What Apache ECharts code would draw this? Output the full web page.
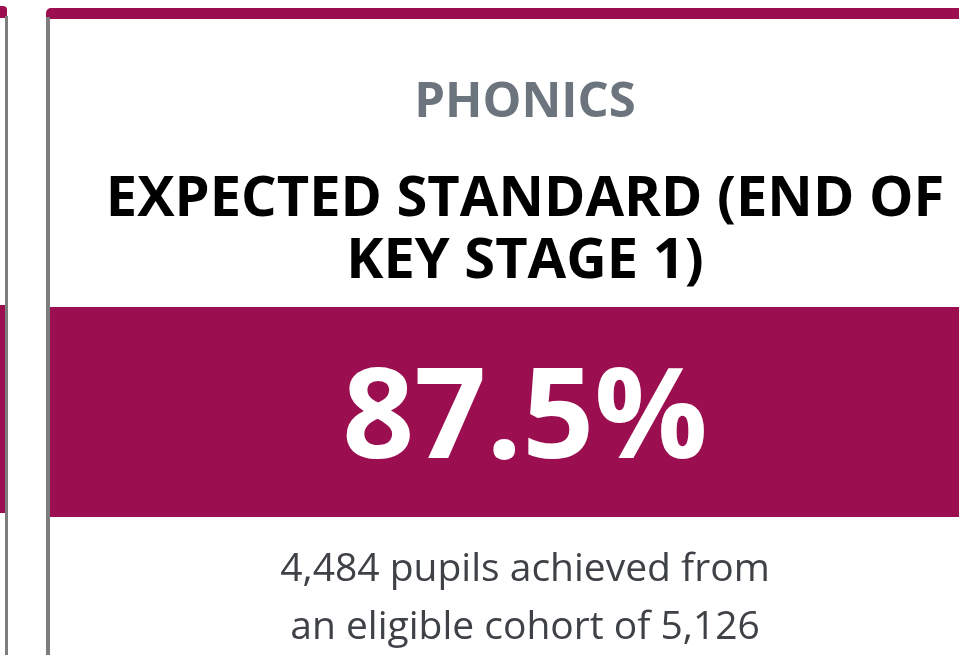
<!DOCTYPE html>
<html>
<head>
<meta charset="utf-8">
<style>
  html, body { margin: 0; padding: 0; background: #fff; }
  #chart { width: 959px; height: 655px; }
</style>
<script src="https://cdn.jsdelivr.net/npm/echarts@6/dist/echarts.min.js"></script>
</head>
<body>
<div id="chart"></div>
<script>
// card data
const subject = "PHONICS";
const measureLines = ["EXPECTED STANDARD (END OF", "KEY STAGE 1)"];
const achieved = [4484];
const cohort = [5126];

const maroon = "#9b0e4f";
const border = "#7d7d7d";
const fontFamily = "'Open Sans', sans-serif";

const fmt = (n) => n.toLocaleString("en-GB");
const pct = ((achieved[0] / cohort[0]) * 100).toFixed(1) + "%";
const footLines = [
  `${fmt(achieved[0])} pupils achieved from`,
  `an eligible cohort of ${fmt(cohort[0])}`
];

const chart = echarts.init(document.getElementById("chart"));
const cx = 525;

chart.setOption({
  animation: false,
  graphic: [
    // left neighbour card (cut off)
    { type: "rect", shape: { x: 0, y: 6, width: 7, height: 12, r: [0, 4, 0, 0] }, style: { fill: maroon } },
    { type: "rect", shape: { x: 0, y: 305, width: 5, height: 208 }, style: { fill: maroon } },
    { type: "rect", shape: { x: 5, y: 16, width: 3, height: 640 }, style: { fill: border } },
    // main card
    { type: "rect", shape: { x: 46, y: 8, width: 920, height: 11, r: [5, 0, 0, 0] }, style: { fill: maroon } },
    { type: "rect", shape: { x: 46, y: 17, width: 4, height: 640 }, style: { fill: border } },
    { type: "rect", shape: { x: 50, y: 307, width: 910, height: 210 }, style: { fill: maroon } },
    {
      type: "text", x: cx, y: 103,
      style: { text: subject, fill: "#6c747d", font: `bold 49px ${fontFamily}`, align: "center", verticalAlign: "middle" }
    },
    ...measureLines.map((t, i) => ({
      type: "text", x: cx, y: 200 + i * 62,
      style: { text: t, fill: "#000", font: `bold 56px ${fontFamily}`, align: "center", verticalAlign: "middle" }
    })),
    {
      type: "text", x: cx, y: 422,
      style: { text: pct, fill: "#fff", font: `bold 126px ${fontFamily}`, align: "center", verticalAlign: "middle" }
    },
    ...footLines.map((t, i) => ({
      type: "text", x: cx, y: 570 + i * 58,
      style: { text: t, fill: "#3e4145", font: `39px ${fontFamily}`, align: "center", verticalAlign: "middle" }
    }))
  ]
});
</script>
</body>
</html>
